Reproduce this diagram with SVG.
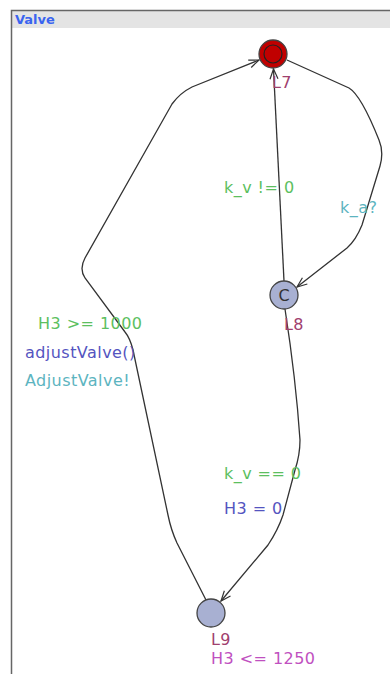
<svg xmlns="http://www.w3.org/2000/svg" width="390" height="674" viewBox="0 0 390 674">
<style>
text{font-family:"DejaVu Sans","Liberation Sans",sans-serif;font-size:16px;letter-spacing:0.45px}
.e{fill:none;stroke:#333;stroke-width:1.3}
.loc{fill:#a8b0d2;stroke:#444;stroke-width:1.3}
.name{fill:#a0406e}
.guard{fill:#5cbf60}
.upd{fill:#5454c0}
.sync{fill:#5cb4c0}
.inv{fill:#c050c0}
</style>
<defs>
<marker id="arr" viewBox="0 0 12 10" refX="11" refY="5" markerWidth="12" markerHeight="10" markerUnits="userSpaceOnUse" orient="auto">
<path d="M1,1 L11,5 L1,9" fill="none" stroke="#333" stroke-width="1.2"/>
</marker>
</defs>
<rect x="0" y="0" width="390" height="674" fill="#fff"/>
<g id="frame">
<rect x="12" y="11" width="378" height="17" fill="#e4e4e4"/>
<path d="M11.5,674 V10.5 H390" fill="none" stroke="#666" stroke-width="1.5"/>
<text x="15" y="24" style="font-size:13px;font-weight:bold;letter-spacing:0" fill="#3a64f0">Valve</text>
</g>
<g id="connectors">
<path class="e" d="M284,281 L273.5,69" marker-end="url(#arr)"/>
<path class="e" d="M287,60 L349,88 Q361,95 379,140 Q384,152 380,166 L362,225 Q356,240 347,248 L297,287" marker-end="url(#arr)"/>
<path class="e" d="M285,309 Q296,380 300,440 Q300,455 295,470 L283,515 Q278,530 268,545 L221,601" marker-end="url(#arr)"/>
<path class="e" d="M206,600 L177,543 Q171,530 168,515 L133,350 Q130,338 125,332 L85,278 Q79,269 85,258 L172,104 Q180,93 192,87 L259,60" marker-end="url(#arr)"/>
</g>
<g id="edge-labels">
<text class="guard" x="224" y="193">k_v != 0</text>
<text class="sync" x="340" y="213">k_a?</text>
<text class="guard" x="38" y="329">H3 &gt;= 1000</text>
<text class="upd" x="25" y="358">adjustValve()</text>
<text class="sync" x="25" y="386">AdjustValve!</text>
<text class="guard" x="224" y="479">k_v == 0</text>
<text class="upd" x="224" y="514">H3 = 0</text>
</g>
<g id="L7">
<circle cx="273" cy="54" r="14" fill="#c00000" stroke="#444" stroke-width="1.3"/>
<circle cx="273" cy="54" r="9" fill="none" stroke="#222" stroke-width="1.2"/>
<text class="name" x="272" y="88">L7</text>
</g>
<g id="L8">
<circle class="loc" cx="284" cy="295" r="14"/>
<text x="284" y="301" text-anchor="middle" fill="#333" style="letter-spacing:0">C</text>
<text class="name" x="284" y="330">L8</text>
</g>
<g id="L9">
<circle class="loc" cx="211" cy="613" r="14"/>
<text class="name" x="211" y="645">L9</text>
<text class="inv" x="211" y="664">H3 &lt;= 1250</text>
</g>
</svg>
